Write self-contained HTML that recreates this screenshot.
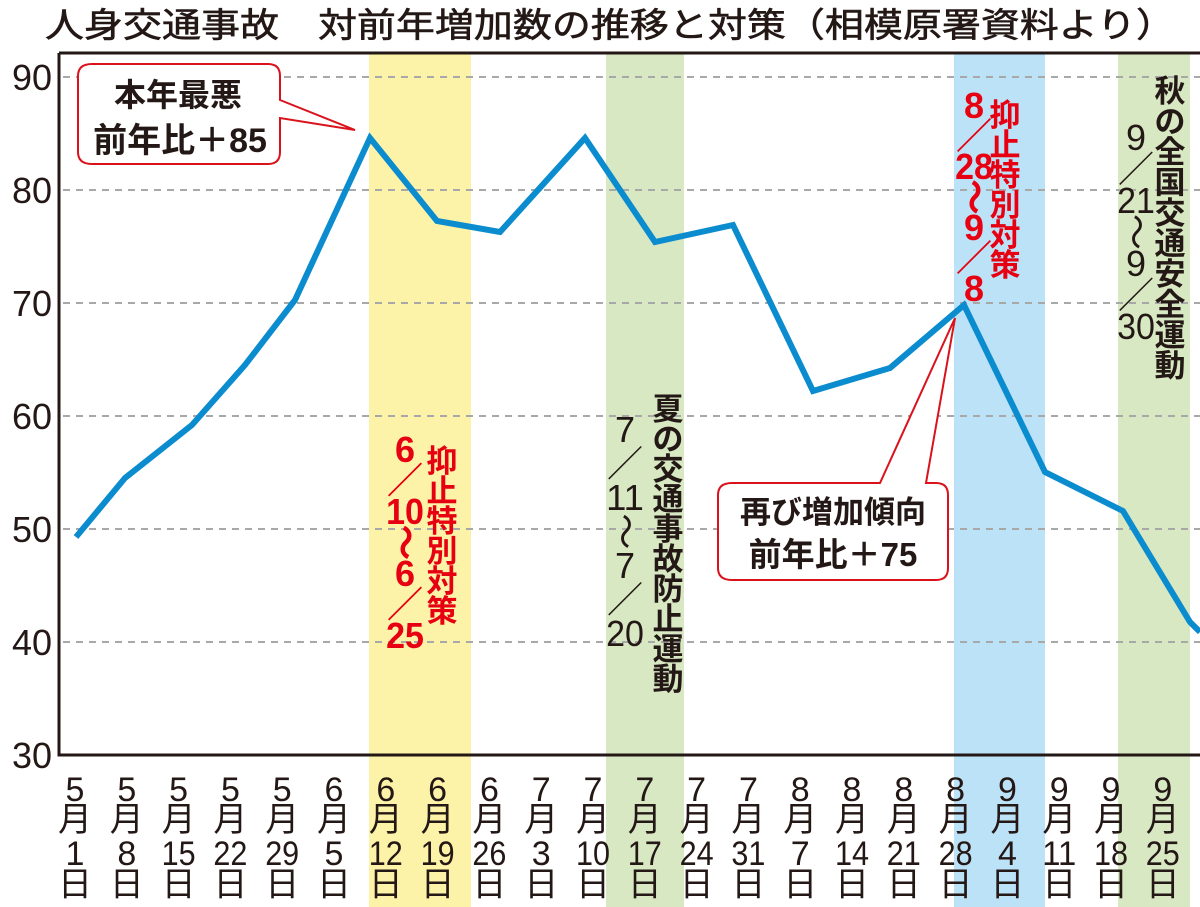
<!DOCTYPE html>
<html><head><meta charset="utf-8"><style>
html,body{margin:0;padding:0;background:#fff;}
svg{display:block;}
text{font-family:"Liberation Sans","Noto Sans CJK JP",sans-serif;}
</style></head><body>
<svg width="1200" height="907" viewBox="0 0 1200 907" xmlns="http://www.w3.org/2000/svg">
<rect x="369" y="53" width="102" height="854" fill="#fcf3a8"/>
<rect x="606" y="53" width="78" height="854" fill="#d7e8c3"/>
<rect x="954" y="53" width="91" height="854" fill="#bce2f7"/>
<rect x="1118" y="53" width="72" height="854" fill="#d7e8c3"/>
<text x="45" y="37" font-size="34" fill="#231815" stroke="#231815" stroke-width="0.6" textLength="1130" lengthAdjust="spacingAndGlyphs">人身交通事故　対前年増加数の推移と対策（相模原署資料より）</text>
<g stroke="#a8a8a8" stroke-width="2" stroke-dasharray="7,6">
<line x1="63" y1="77" x2="1200" y2="77"/>
<line x1="63" y1="190" x2="1200" y2="190"/>
<line x1="63" y1="303" x2="1200" y2="303"/>
<line x1="63" y1="416" x2="1200" y2="416"/>
<line x1="63" y1="529" x2="1200" y2="529"/>
<line x1="63" y1="642" x2="1200" y2="642"/>
</g>
<path d="M59 53 V755 H1200 M59 53 H1200" fill="none" stroke="#231815" stroke-width="3"/>
<g font-size="36" fill="#231815" text-anchor="end">
<text x="52" y="90">90</text><text x="52" y="203">80</text><text x="52" y="316">70</text>
<text x="52" y="429">60</text><text x="52" y="542">50</text><text x="52" y="655">40</text><text x="52" y="768">30</text>
</g>
<polyline fill="none" stroke="#0b8ccf" stroke-width="6" stroke-linejoin="miter" points="76,537 125,478 192,425 245,365 295,300 370,138 437,221 500,232 585,138 655,242 733,225 813,391 890,368 964,305 1045,472 1123,511 1190,622 1200,632"/>
<g font-size="34" fill="#231815" text-anchor="middle" id="xl"></g>
<path d="M92 64 H268 Q280 64 280 76 V100 L355 130 L280 118 V152 Q280 164 268 164 H92 Q78 164 78 152 V76 Q78 64 92 64 Z" fill="#fff" stroke="#d9121b" stroke-width="2"/>
<text x="178" y="106" font-size="32" font-weight="bold" text-anchor="middle" fill="#231815">本年最悪</text>
<text x="180" y="152" font-size="34" font-weight="bold" text-anchor="middle" fill="#231815">前年比＋85</text>
<path d="M732 483 H880 L955 318 L926 483 H936 Q948 483 948 495 V568 Q948 580 936 580 H732 Q718 580 718 568 V495 Q718 483 732 483 Z" fill="#fff" stroke="#d9121b" stroke-width="2"/>
<text x="833" y="523" font-size="31" font-weight="bold" text-anchor="middle" fill="#231815">再び増加傾向</text>
<text x="833" y="566" font-size="33" font-weight="bold" text-anchor="middle" fill="#231815">前年比＋75</text>
<g id="bt"></g>
</svg>
<script>
var ns="http://www.w3.org/2000/svg";
function t(parent,x,y,s,opts){var e=document.createElementNS(ns,"text");e.setAttribute("x",x);e.setAttribute("y",y);e.textContent=s;
for(var k in opts)e.setAttribute(k,opts[k]);parent.appendChild(e);return e;}
var xl=document.getElementById("xl");
var labs=[["5","1"],["5","8"],["5","15"],["5","22"],["5","29"],["6","5"],["6","12"],["6","19"],["6","26"],["7","3"],["7","10"],["7","17"],["7","24"],["7","31"],["8","7"],["8","14"],["8","21"],["8","28"],["9","4"],["9","11"],["9","18"],["9","25"]];
labs.forEach(function(l,i){var x=75+i*51.8;
t(xl,x,801,l[0],{});t(xl,x,831,"月",{});
var o={};if(l[1].length>1){o.textLength="34";o.lengthAdjust="spacingAndGlyphs";o.x=x-17;o["text-anchor"]="start";}
t(xl,x,865,l[1],o);
t(xl,x,896,"日",{});});
var bt=document.getElementById("bt");
function col(x,y0,step,arr,color,fs,bold){var y=y0;arr.forEach(function(c){
var o={"font-size":fs,"fill":color,"text-anchor":"middle"};
if(bold)o["font-weight"]="bold";
if(c.length>1){o.textLength=fs*1.05;o.lengthAdjust="spacingAndGlyphs";o.x=x-fs*0.525;o["text-anchor"]="start";}
var e=t(bt,x,y,c,o);
if(c=="～"){e.setAttribute("transform","rotate(90 "+x+" "+(y-fs*0.35)+")");}
y+=step;});}
var R="#e60012",K="#231815";
col(442,472,30,"抑止特別対策".split(""),R,31,true);
col(405,462,31,["6","／","10","～","6","／","25"],R,36,true);
col(668,420,30,"夏の交通事故防止運動".split(""),K,31,true);
col(625,442,34,["7","／","11","～","7","／","20"],K,36,false);
col(1005,126,30,"抑止特別対策".split(""),R,31,true);
col(974,118,30.5,["8","／","28","～","9","／","8"],R,36,true);
col(1170,102,30.5,"秋の全国交通安全運動".split(""),K,31,true);
col(1136,150,31.5,["9","／","21","～","9","／","30"],K,36,false);
</script>
</body></html>
